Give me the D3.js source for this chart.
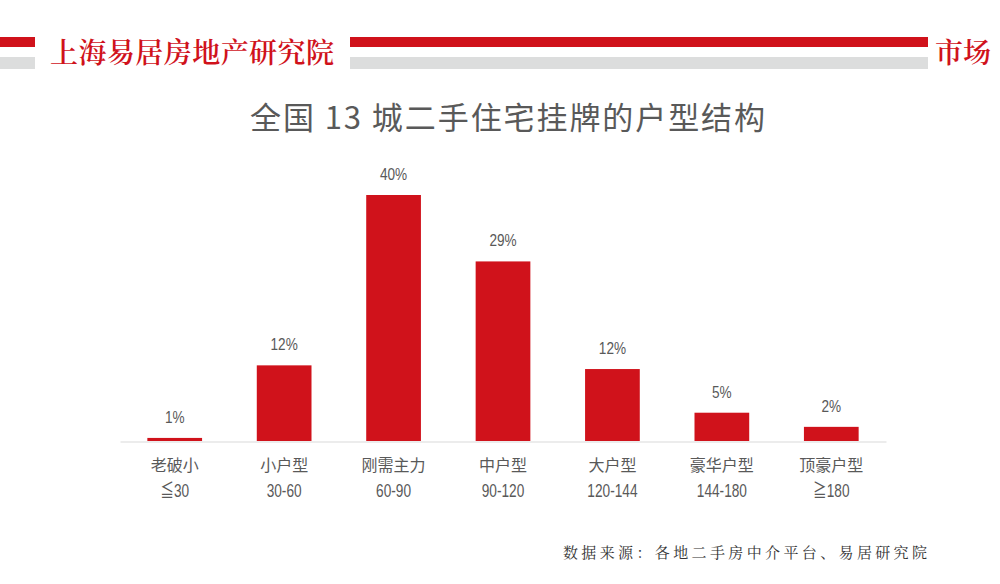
<!DOCTYPE html>
<html lang="zh">
<head>
<meta charset="UTF-8">
<title>全国13城二手住宅挂牌的户型结构</title>
<style>
    body { margin: 0; background: #fff; }
    svg { display: block; }
</style>
</head>
<body>
<svg id="chart"></svg>
<script src="https://cdn.jsdelivr.net/npm/d3@7/dist/d3.min.js"></script>
<script>
    // Data
    var categories = ["老破小", "小户型", "刚需主力", "中户型", "大户型", "豪华户型", "顶豪户型"];
    var ranges = ["≦30", "30-60", "60-90", "90-120", "120-144", "144-180", "≧180"];
    var shares = [0.5, 12.3, 40, 29.2, 11.7, 4.6, 2.3];

    var W = 1000, H = 584;
    var red = "#d0121b", grey = "#dcdddd", textCol = "#595959";
    var cjk = "'Noto Sans CJK SC', 'Noto Sans', sans-serif";
    var narrow = "'Liberation Sans', 'Noto Sans CJK SC', sans-serif";

    var svg = d3.select("#chart").attr("width", W).attr("height", H);

    // Header band
    var header = svg.append("g");
    header.append("rect").attr("x", 0).attr("y", 37).attr("width", 35).attr("height", 10).attr("fill", red);
    header.append("rect").attr("x", 0).attr("y", 57).attr("width", 35).attr("height", 12).attr("fill", grey);
    header.append("rect").attr("x", 350).attr("y", 37).attr("width", 578).attr("height", 10).attr("fill", red);
    header.append("rect").attr("x", 350).attr("y", 57).attr("width", 578).attr("height", 12).attr("fill", grey);
    header.append("text")
        .attr("x", 50).attr("y", 63)
        .attr("font-family", "'Noto Serif CJK SC', serif")
        .attr("font-weight", 600)
        .attr("font-size", 28)
        .attr("textLength", 284)
        .attr("fill", red)
        .text("上海易居房地产研究院");
    header.append("text")
        .attr("x", 935).attr("y", 63)
        .attr("font-family", "'Noto Serif CJK SC', serif")
        .attr("font-weight", 600)
        .attr("font-size", 28)
        .attr("fill", red)
        .text("市场");

    // Title
    svg.append("text")
        .attr("x", 250).attr("y", 129)
        .attr("font-family", cjk)
        .attr("font-size", 31)
        .attr("textLength", 515)
        .attr("lengthAdjust", "spacing")
        .attr("fill", textCol)
        .text("全国 13 城二手住宅挂牌的户型结构");

    // Scales
    var x = d3.scaleBand()
        .domain(categories)
        .range([120, 886])
        .paddingInner(0.5)
        .paddingOuter(0.25);

    var y = d3.scaleLinear()
        .domain([0, 40])
        .range([441, 195]);

    // Bars
    svg.selectAll("rect.bar")
        .data(shares)
        .enter()
        .append("rect")
        .attr("class", "bar")
        .attr("x", (d, i) => x(categories[i]))
        .attr("y", d => y(d))
        .attr("width", x.bandwidth())
        .attr("height", d => y(0) - y(d))
        .attr("fill", red);

    // Value labels (narrowed)
    svg.selectAll("text.val")
        .data(shares)
        .enter()
        .append("text")
        .attr("class", "val")
        .attr("transform", (d, i) => "translate(" + (x(categories[i]) + x.bandwidth() / 2) + "," + (y(d) - 15) + ") scale(0.8,1)")
        .attr("text-anchor", "middle")
        .attr("font-family", narrow)
        .attr("font-size", 17)
        .attr("fill", textCol)
        .text(d => Math.round(d) + "%");

    // Axis
    var axis = svg.append("g")
        .attr("transform", "translate(0,441.5)")
        .call(d3.axisBottom(x).tickSize(0).tickFormat(""));
    axis.select(".domain").attr("stroke", "#d9d9d9").attr("stroke-width", 1.2);

    // Category labels (two lines)
    var ticks = svg.selectAll("g.cat")
        .data(categories)
        .enter()
        .append("g")
        .attr("class", "cat")
        .attr("transform", d => "translate(" + (x(d) + x.bandwidth() / 2) + ",0)");
    ticks.append("text")
        .attr("y", 471)
        .attr("text-anchor", "middle")
        .attr("font-family", cjk)
        .attr("font-size", 16)
        .attr("fill", textCol)
        .text(d => d);
    ticks.append("text")
        .attr("transform", "translate(0,497) scale(0.76,1)")
        .attr("text-anchor", "middle")
        .attr("font-family", narrow)
        .attr("font-size", 18)
        .attr("fill", textCol)
        .text((d, i) => ranges[i]);

    // Source note
    svg.append("text")
        .attr("x", 563).attr("y", 558)
        .attr("font-family", "'Noto Serif CJK SC', " + cjk)
        .attr("font-size", 15)
        .attr("textLength", 364)
        .attr("fill", "#333")
        .text("数据来源：各地二手房中介平台、易居研究院");
</script>
</body>
</html>
